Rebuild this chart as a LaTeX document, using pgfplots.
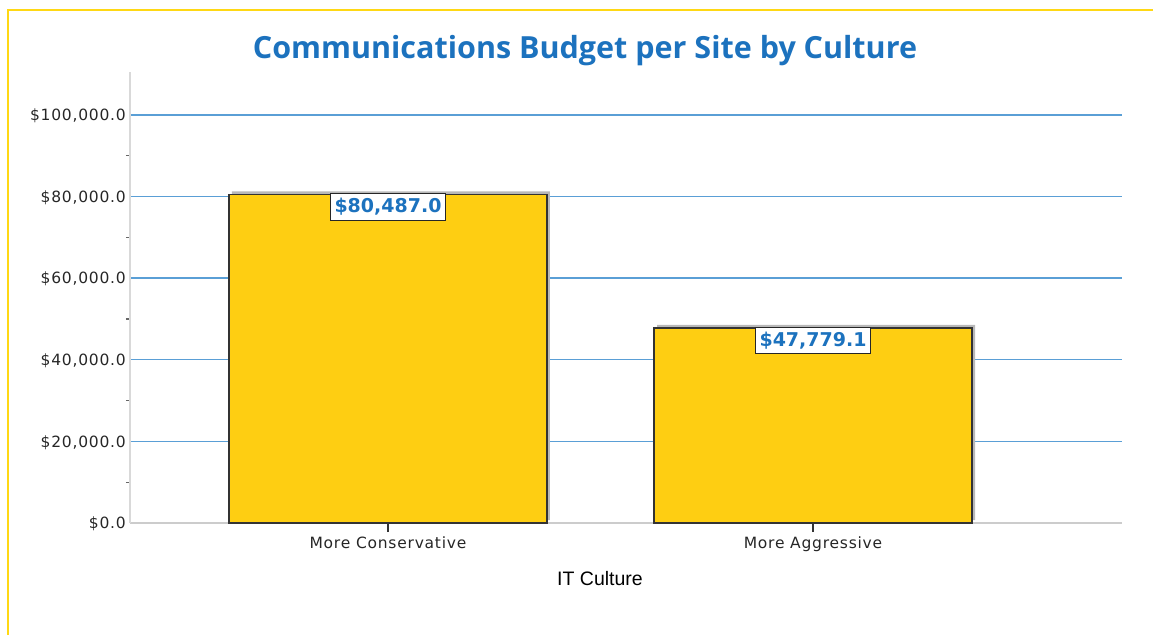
\documentclass[border=0pt]{standalone}
\usepackage{pgfplots}
\pgfplotsset{compat=1.18}
\usepackage{fontspec}
\setmainfont{DejaVu Sans}
\newfontfamily\tickfont[LetterSpace=5]{DejaVu Sans}
\newfontfamily\labfont{Liberation Sans}
\newfontfamily\titlefont{Open Sans}
\usetikzlibrary{shadows}
\definecolor{barY}{HTML}{FECE12}
\definecolor{titleB}{HTML}{1C72BE}
\definecolor{gridB}{HTML}{5A9FD6}
\definecolor{frameY}{HTML}{FFD814}
\begin{document}
\begin{tikzpicture}[x=1pt,y=1pt]
\useasboundingbox (-130,-112) rectangle (1023,523);
\draw[frameY, line width=2pt] (-122,-112) -- (-122,513) -- (1023,513);
\begin{axis}[
  at={(0,0)}, anchor=south west,
  scale only axis, width=992pt, height=451pt,
  xmin=-0.607, xmax=1.727, ymin=0, ymax=110500,
  axis x line*=bottom, axis y line*=left,
  axis line style={-},
  x axis line style={draw=black!20, line width=1.5pt},
  y axis line style={draw=black!15, line width=1.2pt},
  xtick={0,1}, xticklabels={More Conservative, More Aggressive},
  ytick={0,20000,...,100000},
  minor ytick={10000,30000,50000,70000,90000},
  scaled y ticks=false,
  tick align=outside,
  xtick style={black!80, line width=1.3pt},
  x tick label style={font=\tickfont\fontsize{15.5}{18}\selectfont, text=black!85, yshift=-1pt},
  major tick length=9pt,
  ytick style={draw=none},
  minor y tick style={draw=black!60, line width=1.3pt},
  minor tick length=4pt,
  ymajorgrids, grid style={gridB, line width=1.5pt},
  /pgf/number format/assume math mode=true,
  yticklabel={\$\pgfmathprintnumber[fixed,fixed zerofill,precision=1,1000 sep={,}]{\tick}},
  y tick label style={font=\tickfont\fontsize{15.5}{18}\selectfont, text=black!85, inner sep=1pt, xshift=6pt, yshift=-1pt},
  ybar, bar width=318pt,
  clip=false,
]
\addplot[fill=barY, draw=black!80, line width=1.5pt,
  drop shadow={shadow xshift=3pt, shadow yshift=3pt, draw=none, fill=black!28, opacity=1},
  nodes near coords={\$\pgfmathprintnumber[fixed,fixed zerofill,precision=1,1000 sep={,}]{\pgfplotspointmeta}},
  every node near coord/.style={anchor=north, fill=white, draw=black!85, line width=0.9pt,
    text=titleB, font=\bfseries\fontsize{19}{22}\selectfont, inner xsep=4pt, inner ysep=4.5pt, yshift=1pt}]
  coordinates {(0,80487.0) (1,47779.1)};
\end{axis}
\node[text=titleB, font=\titlefont\bfseries\fontsize{30.5}{34}\selectfont] at (455,472) {Communications Budget per Site by Culture};
\node[font=\labfont\fontsize{19.5}{22}\selectfont] at (470,-56) {IT Culture};
\end{tikzpicture}
\end{document}
